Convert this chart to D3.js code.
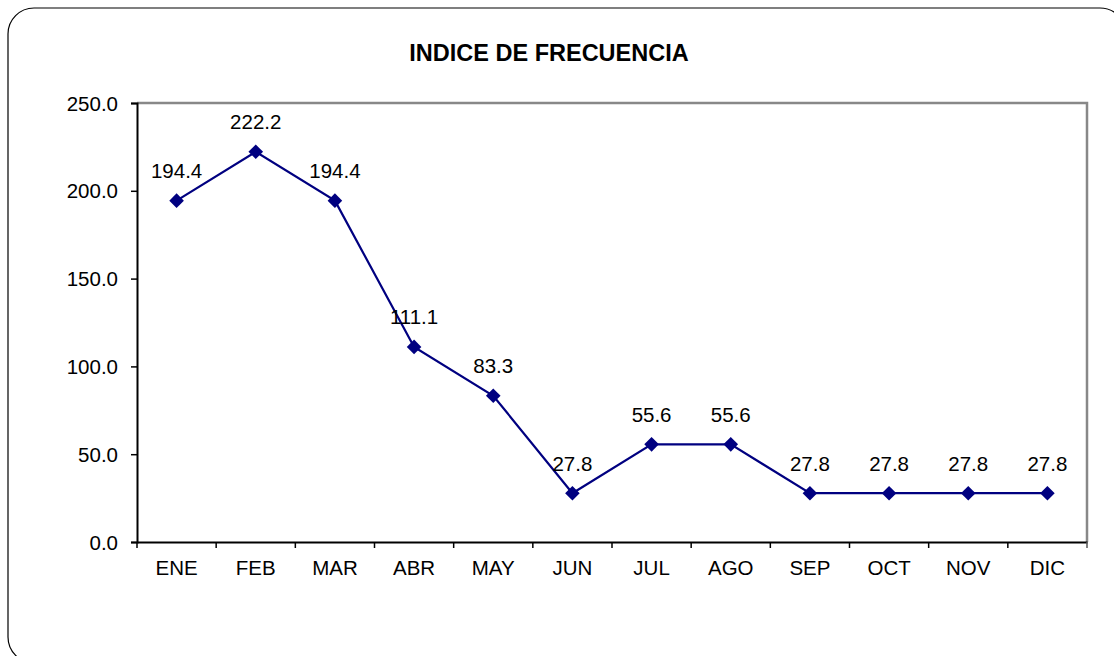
<!DOCTYPE html>
<html><head><meta charset="utf-8">
<script src="https://cdn.jsdelivr.net/npm/d3@7"></script>
<style>body{margin:0;background:#fff}svg{display:block}text{font-family:"Liberation Sans",Arial,sans-serif}</style>
</head><body>
<svg id="c" width="1114" height="656"></svg>
<script>
const months = ["ENE","FEB","MAR","ABR","MAY","JUN","JUL","AGO","SEP","OCT","NOV","DIC"];
const values = [194.4,222.2,194.4,111.1,83.3,27.8,55.6,55.6,27.8,27.8,27.8,27.8];
const yTicks = [0,50,100,150,200,250];
const title = "INDICE DE FRECUENCIA";

const FS = 20.5;
const svg = d3.select("#c");
svg.append("rect").attr("x",8).attr("y",8).attr("width",1118).attr("height",655)
  .attr("rx",26).attr("ry",26).attr("fill","#fff").attr("stroke","#000").attr("stroke-width",1.2);

const L=137,R=1087,T=103,B=542;
const x = d3.scaleBand().domain(months).range([L,R]).padding(0);
const y = d3.scaleLinear().domain([0,250]).range([B,T]);

svg.append("text").attr("x",549).attr("y",61).attr("text-anchor","middle")
  .attr("font-weight","bold").attr("font-size",23.5).text(title);

// plot border gray top/right
svg.append("path").attr("d",`M${L},${T}H${R}V${B}`).attr("fill","none").attr("stroke","#888").attr("stroke-width",2.5);

const ya = svg.append("g").attr("transform",`translate(${L},0)`)
  .call(d3.axisLeft(y).tickValues(yTicks).tickFormat(d3.format(".1f")).tickSize(6).tickPadding(13));
ya.select(".domain").attr("stroke","#000").attr("stroke-width",2);
ya.selectAll(".tick line").attr("stroke","#000").attr("stroke-width",1.5);
ya.selectAll("text").attr("font-size",FS).attr("fill","#000").attr("dy","0.35em").attr("font-family","Liberation Sans, Arial, sans-serif");

const xa = svg.append("g").attr("transform",`translate(0,${B})`)
  .call(d3.axisBottom(x).tickSize(0).tickPadding(18.5));
xa.select(".domain").attr("stroke","#000").attr("stroke-width",2);
xa.selectAll("text").attr("font-size",FS).attr("fill","#000").attr("font-family","Liberation Sans, Arial, sans-serif");
// boundary ticks
const bounds = months.map(m=>x(m)).concat([R]);
svg.append("g").selectAll("line").data(bounds).join("line")
  .attr("x1",d=>d).attr("x2",d=>d).attr("y1",B).attr("y2",B+6)
  .attr("stroke",(d,i)=>i===bounds.length-1?"#555":"#000").attr("stroke-width",1.5);

const cx = m => x(m)+x.bandwidth()/2;
svg.append("path").datum(values)
  .attr("d",d3.line().x((d,i)=>cx(months[i])).y(d=>y(d)))
  .attr("fill","none").attr("stroke","#000080").attr("stroke-width",2.2);

svg.append("g").selectAll("path").data(values).join("path")
  .attr("transform",(d,i)=>`translate(${cx(months[i])},${y(d)})`)
  .attr("d","M0,-7.3L7.3,0L0,7.3L-7.3,0Z").attr("fill","#000080");

svg.append("g").selectAll("text").data(values).join("text")
  .attr("x",(d,i)=>cx(months[i])).attr("y",d=>y(d)-22.5)
  .attr("text-anchor","middle").attr("font-size",FS).attr("fill","#000")
  .text(d=>d.toFixed(1));
</script>
</body></html>
